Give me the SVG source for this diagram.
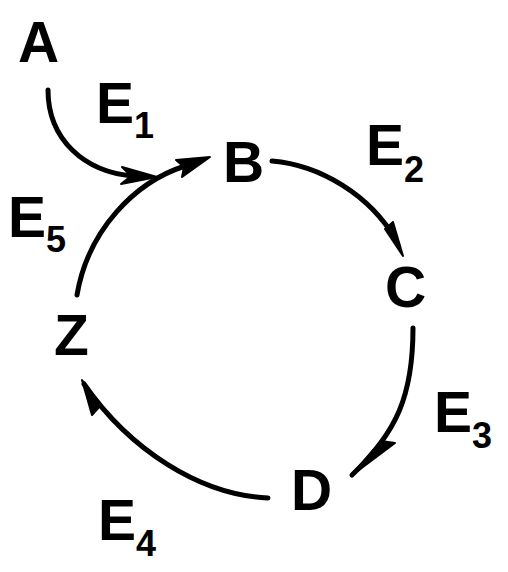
<svg xmlns="http://www.w3.org/2000/svg" width="508" height="572" viewBox="0 0 508 572">
<style>
.node{font-family:"Liberation Sans",Arial,sans-serif;font-weight:bold;font-size:57px;fill:#000}
.lbl{font-family:"Liberation Sans",Arial,sans-serif;font-weight:bold;font-size:57px;fill:#000}
.sub{font-size:36px}
.edge{fill:none;stroke:#000;stroke-width:5;stroke-linecap:round}
.head{fill:#000;stroke:#000;stroke-width:2;stroke-linejoin:round}
</style>
<rect width="508" height="572" fill="#fff"/>
<g id="connectors">
  <g id="e1">
    <path class="edge" d="M48,90 C48,140 85,172 133,176"/>
    <polygon class="head" points="157,177 122,167 131,176 121,184"/>
    <text class="lbl" x="96" y="123">E<tspan class="sub" dy="15">1</tspan></text>
  </g>
  <g id="e2">
    <path class="edge" d="M272,161 C320,165 370,195 396,240"/>
    <polygon class="head" points="403,256 393,222 385,229"/>
    <text class="lbl" x="366" y="165">E<tspan class="sub" dy="17">2</tspan></text>
  </g>
  <g id="e3">
    <path class="edge" d="M413,328 C413,395 397,432 352,475"/>
    <polygon class="head" points="351,476 395,443 381,441"/>
    <text class="lbl" x="434" y="432">E<tspan class="sub" dy="16">3</tspan></text>
  </g>
  <g id="e4">
    <path class="edge" d="M268,498 C200,495 130,450 84,384"/>
    <polygon class="head" points="82,380 92,415 101,405"/>
    <text class="lbl" x="98" y="540">E<tspan class="sub" dy="16">4</tspan></text>
  </g>
  <g id="e5">
    <path class="edge" d="M77,295 C88,230 135,182 185,166"/>
    <polygon class="head" points="210,157 176,160 184,167 182,177"/>
    <text class="lbl" x="8" y="237">E<tspan class="sub" dy="15">5</tspan></text>
  </g>
</g>
<g id="A"><text class="node" x="18" y="62">A</text></g>
<g id="B"><text class="node" x="223" y="182">B</text></g>
<g id="C"><text class="node" x="385" y="307">C</text></g>
<g id="D"><text class="node" x="291" y="510">D</text></g>
<g id="Z"><text class="node" x="54" y="355">Z</text></g>
</svg>
